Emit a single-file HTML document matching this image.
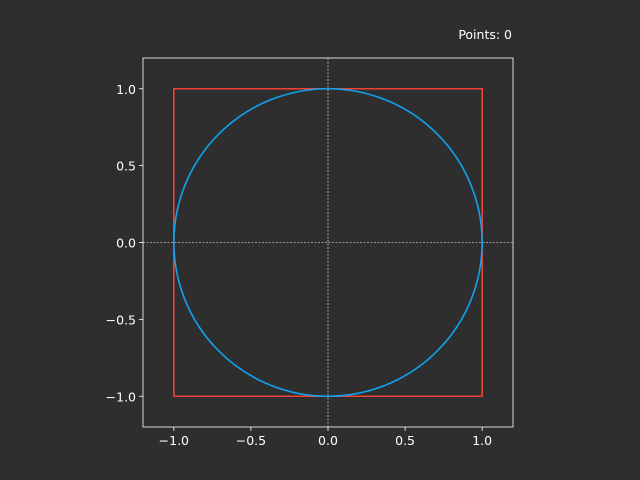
<!DOCTYPE html>
<html><head><meta charset="utf-8"><style>
html,body{margin:0;padding:0;background:#2e2e2e;}
svg{display:block;font-family:"DejaVu Sans","Liberation Sans",sans-serif;}
</style></head><body>
<svg id="chart" width="640" height="480">
<rect width="640" height="480" fill="#2e2e2e"/>
<text x="512" y="39" fill="#ffffff" font-size="12.5" text-anchor="end">Points: 0</text>
</svg>
<script>
const xTicks=[-1.0,-0.5,0.0,0.5,1.0];
const yTicks=[-1.0,-0.5,0.0,0.5,1.0];
const xTickLabels=["\u22121.0","\u22120.5","0.0","0.5","1.0"];
const yTickLabels=["\u22121.0","\u22120.5","0.0","0.5","1.0"];
const xLimits=[-1.2,1.2];
const yLimits=[-1.2,1.2];
const squareX=[-1,1,1,-1,-1];
const squareY=[-1,-1,1,1,-1];
const circleRadius=[1];
const NS="http://www.w3.org/2000/svg";
const svg=document.getElementById('chart');
const L=143,R=513,T=58,B=427;
const sx=v=>L+(v-xLimits[0])/(xLimits[1]-xLimits[0])*(R-L);
const sy=v=>B-(v-yLimits[0])/(yLimits[1]-yLimits[0])*(B-T);
function mk(tag,attrs){const e=document.createElementNS(NS,tag);for(const k in attrs)e.setAttribute(k,attrs[k]);svg.appendChild(e);return e;}
let e;
e=mk('line',{x1:sx(0),x2:sx(0),y1:T,y2:B,stroke:'#ffffff','stroke-width':0.6,'stroke-dasharray':'2,1.5'});


e=mk('line',{x1:L,x2:R,y1:sy(0),y2:sy(0),stroke:'#ffffff','stroke-width':0.6,'stroke-dasharray':'2,1.5'});


e=mk('polyline',{points:squareX.map((x,i)=>sx(x)+','+sy(squareY[i])).join(' '),fill:'none',stroke:'#ee4238','stroke-width':1.6});


const r=circleRadius[0];
e=mk('ellipse',{cx:sx(0),cy:sy(0),rx:sx(r)-sx(0),ry:sy(0)-sy(r),fill:'none',stroke:'#0fa3f0','stroke-width':1.6});


e=mk('rect',{x:L,y:T,width:R-L,height:B-T,fill:'none',stroke:'#ffffff','stroke-width':0.8});


xTicks.forEach((v,i)=>{
  let t=mk('line',{x1:sx(v),x2:sx(v),y1:B,y2:B+4,stroke:'#ffffff','stroke-width':0.8});
  
  
  let l=mk('text',{x:sx(v),y:B+18,fill:'#ffffff','font-size':12.5,'text-anchor':'middle'});
  l.textContent=xTickLabels[i];
  
  
});
yTicks.forEach((v,i)=>{
  let t=mk('line',{x1:L-4,x2:L,y1:sy(v),y2:sy(v),stroke:'#ffffff','stroke-width':0.8});
  
  
  let l=mk('text',{x:L-7,y:sy(v)+5,fill:'#ffffff','font-size':12.5,'text-anchor':'end'});
  l.textContent=yTickLabels[i];
  
  
});
</script>
</body></html>
